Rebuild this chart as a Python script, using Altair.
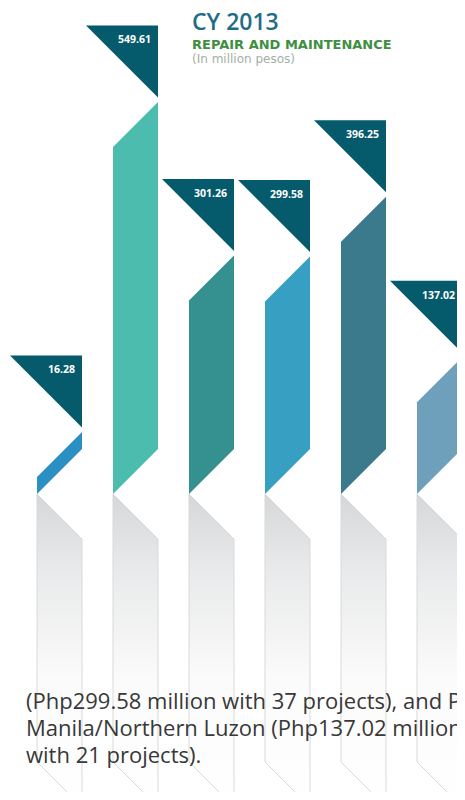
import altair as alt
import pandas as pd

# ---- data -----------------------------------------------------------------
regions = ["Area 1", "Area 2", "Area 3", "Area 4", "Area 5", "Manila/Northern Luzon"]
amounts = [16.28, 549.61, 301.26, 299.58, 396.25, 137.02]
title_lines = ["CY 2013", "REPAIR AND MAINTENANCE", "(In million pesos)"]
body_lines = [
    "(Php299.58 million with 37 projects), and PMO Metro",
    "Manila/Northern Luzon (Php137.02 million",
    "with 21 projects).",
]

# ---- styles / layout ------------------------------------------------------
bar_palette = ["#2b8fc1", "#4bbcad", "#35918f", "#379fc2", "#3a7a8c", "#6ea0bb"]
FLAG_COLOR = "#055a6c"

W, H = 449, 784
X_DOMAIN = [-0.3816, 5.5263]
Y_DOMAIN = [-572.9, 694.1]
PX_X = W / (X_DOMAIN[1] - X_DOMAIN[0])
PX_Y = H / (Y_DOMAIN[1] - Y_DOMAIN[0])

BAND = 45 / PX_X          # column width (x units)
FLAG_W = 72 / PX_X        # flag width
GAP = 4.5 / PX_Y          # gap between flag tip and bar top
SLOPE = 45 / PX_Y         # 45-degree drop across a column
FLAG_H = 72 / PX_Y        # flag height
LABEL_DX = 7 / PX_X
LABEL_DY = 15 / PX_Y
BASE_R = -18.6            # bar foot, right side
BASE_L = BASE_R - SLOPE   # bar foot, left side
GRAY_TL = BASE_L
GRAY_TR = GRAY_TL - SLOPE
GRAY_BL = -524.4
GRAY_BR = GRAY_BL - SLOPE

df = pd.DataFrame({"region": regions, "amount": amounts, "idx": list(range(len(regions)))})
df = df.merge(pd.DataFrame({"side": [0, 1]}), how="cross")

xs = alt.Scale(domain=X_DOMAIN, nice=False, zero=False)
ys = alt.Scale(domain=Y_DOMAIN, nice=False, zero=False)

base = alt.Chart(df)

gray = base.transform_calculate(
    xp=f"datum.idx + datum.side * {BAND}",
    yp=f"{GRAY_TL} * (1 - datum.side) + {GRAY_TR} * datum.side",
    yp2=f"{GRAY_BL} * (1 - datum.side) + {GRAY_BR} * datum.side",
).mark_area(
    clip=True,
    fill={
        "gradient": "linear",
        "x1": 0, "y1": 0, "x2": 0, "y2": 1,
        "stops": [
            {"offset": 0, "color": "#d6d7d9"},
            {"offset": 0.25, "color": "#e9eaeb"},
            {"offset": 0.6, "color": "#fbfbfb"},
            {"offset": 1, "color": "#ffffff"},
        ],
    },
    stroke="#d9d9d9",
    strokeWidth=1,
).encode(
    x=alt.X("xp:Q", scale=xs, axis=None),
    y=alt.Y("yp:Q", scale=ys, axis=None, stack=None),
    y2="yp2:Q",
    detail="region:N",
)

bars = base.transform_calculate(
    xp=f"datum.idx + datum.side * {BAND}",
    yp=f"datum.amount - {GAP} - (1 - datum.side) * {SLOPE}",
    yp2=f"{BASE_R} * datum.side + {BASE_L} * (1 - datum.side)",
).mark_area(clip=True).encode(
    x=alt.X("xp:Q", scale=xs, axis=None),
    y=alt.Y("yp:Q", scale=ys, axis=None, stack=None),
    y2="yp2:Q",
    color=alt.Color("region:N", scale=alt.Scale(domain=regions, range=bar_palette), legend=None),
)

flags = base.transform_calculate(
    xp=f"datum.idx + {BAND} - {FLAG_W} + datum.side * {FLAG_W}",
    yp=f"datum.amount + {FLAG_H}",
    yp2=f"datum.amount + {FLAG_H} - datum.side * {FLAG_H}",
).mark_area(clip=True, color=FLAG_COLOR).encode(
    x=alt.X("xp:Q", scale=xs, axis=None),
    y=alt.Y("yp:Q", scale=ys, axis=None, stack=None),
    y2="yp2:Q",
    detail="region:N",
)

labels = base.transform_filter("datum.side == 1").transform_calculate(
    xp=f"datum.idx + {BAND} - {LABEL_DX}",
    yp=f"datum.amount + {FLAG_H} - {LABEL_DY}",
).mark_text(
    clip=True, align="right", baseline="middle", color="white",
    font="Open Sans", fontWeight="bold", fontSize=10.5,
).encode(
    x=alt.X("xp:Q", scale=xs, axis=None),
    y=alt.Y("yp:Q", scale=ys, axis=None),
    text=alt.Text("amount:Q", format=".2f"),
)

tdf = pd.DataFrame({"t": title_lines})
t1 = alt.Chart(tdf).transform_filter(f"datum.t == '{title_lines[0]}'").mark_text(
    align="left", baseline="alphabetic", font="Open Sans", fontSize=23,
    fontWeight=600, color="#1f6d85",
).encode(x=alt.value(184), y=alt.value(22), text="t:N")
t2 = alt.Chart(tdf).transform_filter(f"datum.t == '{title_lines[1]}'").mark_text(
    align="left", baseline="alphabetic", font="DejaVu Sans", fontSize=13,
    fontWeight="bold", color="#3f8e42",
).encode(x=alt.value(184), y=alt.value(41), text="t:N")
t3 = alt.Chart(tdf).transform_filter(f"datum.t == '{title_lines[2]}'").mark_text(
    align="left", baseline="alphabetic", font="DejaVu Sans", fontSize=12,
    color="#a3b0a5",
).encode(x=alt.value(184), y=alt.value(55), text="t:N")

body = alt.Chart(pd.DataFrame({"t": ["\n".join(body_lines)]})).mark_text(
    clip=True, align="left", baseline="alphabetic", font="Open Sans", fontSize=22,
    lineBreak="\n", lineHeight=27, color="#383838",
).encode(x=alt.value(18), y=alt.value(701), text="t:N")

chart = alt.layer(gray, bars, flags, labels, t1, t2, t3, body).properties(
    width=W, height=H, padding=0, autosize=alt.AutoSizeParams(type="none"),
    background="white",
).configure_view(stroke=None)

chart.save("out.html", embed_options={"renderer": "svg", "actions": False})
